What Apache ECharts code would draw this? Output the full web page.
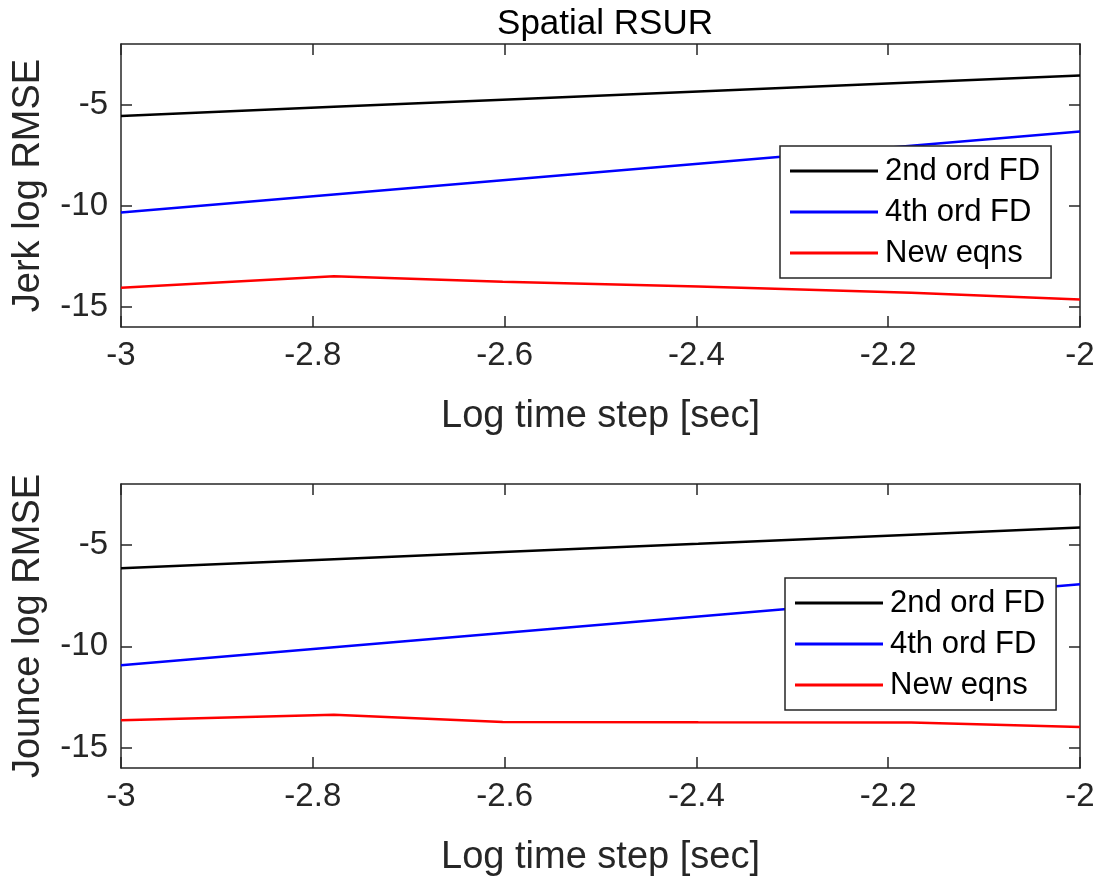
<!DOCTYPE html>
<html>
<head>
<meta charset="utf-8">
<script src="https://cdn.jsdelivr.net/npm/echarts@6/dist/echarts.min.js"></script>
<style>
  html, body { margin: 0; padding: 0; background: #ffffff; }
  #chart { width: 1102px; height: 879px; }
</style>
</head>
<body>
<div id="chart"></div>
<script>
// log10 of the time steps
const logStep = [-3, -2.778, -2.602, -2.398, -2.176, -2]
const seriesNames = ['2nd ord FD', '4th ord FD', 'New eqns']
const colors = ['#000000', '#0000ff', '#ff0000']

// Jerk (top)
const jerk2nd = [-5.56, -5.11, -4.76, -4.35, -3.91, -3.56]
const jerk4th = [-10.33, -9.44, -8.74, -7.92, -7.03, -6.33]
const jerkNew = [-14.06, -13.49, -13.76, -14.0, -14.3, -14.64]

// Jounce (bottom)
const jounce2nd = [-6.15, -5.71, -5.35, -4.95, -4.5, -4.15]
const jounce4th = [-10.94, -10.05, -9.35, -8.53, -7.64, -6.94]
const jounceNew = [-13.65, -13.37, -13.73, -13.75, -13.76, -13.98]

const yTicks = [-15, -10, -5]

const font = "'Liberation Sans', Arial, Helvetica, sans-serif"
const axisColor = '#262626'

function pairs(ys) {
  return logStep.map(function (x, i) { return [x, ys[i]] })
}

function xAxisFor(grid, top) {
  return {
    type: 'value',
    gridIndex: grid,
    position: top ? 'top' : 'bottom',
    min: -3,
    max: -2,
    interval: 0.2,
    name: top ? '' : 'Log time step [sec]',
    nameLocation: 'middle',
    nameGap: 71,
    nameTextStyle: { fontFamily: font, fontSize: 38, color: axisColor },
    axisLine: { show: true, onZero: false, lineStyle: { color: axisColor, width: 1.5 } },
    axisTick: { show: true, inside: true, length: 11, lineStyle: { color: axisColor, width: 1.5 } },
    axisLabel: { show: !top, margin: 12, fontFamily: font, fontSize: 33, color: axisColor },
    splitLine: { show: false }
  }
}

function yAxisFor(grid, right, title) {
  return {
    type: 'value',
    gridIndex: grid,
    position: right ? 'right' : 'left',
    min: -16,
    max: -2,
    name: right ? '' : title,
    nameLocation: 'middle',
    nameGap: 73,
    nameTextStyle: { fontFamily: font, fontSize: 38, color: axisColor },
    axisLine: { show: true, onZero: false, lineStyle: { color: axisColor, width: 1.5 } },
    axisTick: { show: true, inside: true, length: 11, customValues: yTicks, lineStyle: { color: axisColor, width: 1.5 } },
    axisLabel: { show: !right, margin: 13, customValues: yTicks, fontFamily: font, fontSize: 33, color: axisColor },
    splitLine: { show: false }
  }
}

function lineSeries(name, idx, ys, axis) {
  return {
    name: name,
    type: 'line',
    xAxisIndex: axis,
    yAxisIndex: axis,
    data: pairs(ys),
    symbol: 'none',
    color: colors[idx],
    lineStyle: { color: colors[idx], width: 2.5 },
    animation: false
  }
}

function legendAt(left, top) {
  return {
    orient: 'vertical',
    left: left,
    top: top,
    data: seriesNames.map(function (n) { return { name: n, icon: 'rect' } }),
    itemWidth: 88,
    itemHeight: 3,
    itemGap: 7,
    padding: [8, 11, 8, 10],
    backgroundColor: '#ffffff',
    borderColor: axisColor,
    borderWidth: 1.5,
    borderRadius: 0,
    textStyle: { fontFamily: font, fontSize: 31, color: '#000000', lineHeight: 34, padding: [0, 0, 0, 2] },
    selectedMode: false
  }
}

const chart = echarts.init(document.getElementById('chart'))
chart.setOption({
  backgroundColor: '#ffffff',
  animation: false,
  title: {
    text: 'Spatial RSUR',
    left: 600,
    textAlign: 'center',
    top: 2,
    textStyle: { fontFamily: font, fontSize: 35, fontWeight: 'normal', color: '#000000' }
  },
  grid: [
    { left: 121, right: 22, top: 44, height: 283 },
    { left: 121, right: 22, top: 484, height: 284 }
  ],
  xAxis: [xAxisFor(0, false), xAxisFor(0, true), xAxisFor(1, false), xAxisFor(1, true)],
  yAxis: [
    yAxisFor(0, false, 'Jerk log RMSE'),
    yAxisFor(0, true, ''),
    yAxisFor(1, false, 'Jounce log RMSE'),
    yAxisFor(1, true, '')
  ],
  legend: [legendAt(780, 146), legendAt(785, 578)],
  series: [
    lineSeries(seriesNames[0], 0, jerk2nd, 0),
    lineSeries(seriesNames[1], 1, jerk4th, 0),
    lineSeries(seriesNames[2], 2, jerkNew, 0),
    lineSeries(seriesNames[0], 0, jounce2nd, 2),
    lineSeries(seriesNames[1], 1, jounce4th, 2),
    lineSeries(seriesNames[2], 2, jounceNew, 2)
  ]
})
</script>
</body>
</html>
